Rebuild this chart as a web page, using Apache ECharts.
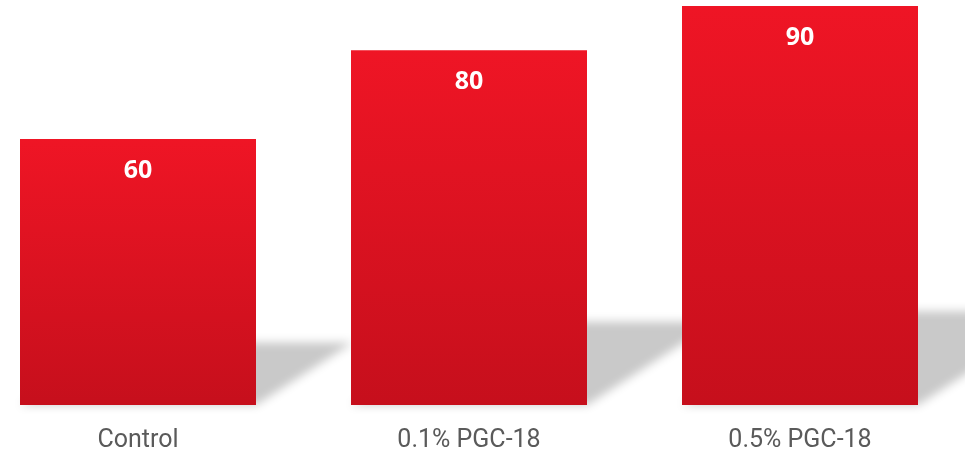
<!DOCTYPE html>
<html>
<head>
<meta charset="utf-8">
<script src="https://cdn.jsdelivr.net/npm/echarts@6/dist/echarts.min.js"></script>
<style>
html,body{margin:0;padding:0;background:#fff;}
#main{width:965px;height:453px;}
</style>
</head>
<body>
<div id="main"></div>
<script>
const categories = ['Control', '0.1% PGC-18', '0.5% PGC-18'];
const values = [60, 80, 90];

const chart = echarts.init(document.getElementById('main'));
const BAR_W = 236;

function renderShadow(params, api) {
  const i = api.value(0);
  const v = api.value(1);
  const base = api.coord([i, 0]);
  const top = api.coord([i, v]);
  const h = base[1] - top[1];
  const dy = h * 0.235;
  const dx = dy * 1.55;
  const L = base[0] - BAR_W / 2;
  const R = base[0] + BAR_W / 2;
  const off = 3000;
  return {
    type: 'polygon',
    shape: {
      points: [
        [L - off, base[1]], [R - off, base[1]],
        [R + dx - off, base[1] - dy], [L + dx - off, base[1] - dy]
      ]
    },
    style: {
      fill: '#c9c9c9',
      shadowColor: '#c9c9c9',
      shadowBlur: 10,
      shadowOffsetX: off,
      shadowOffsetY: 0
    },
    z2: 0
  };
}

chart.setOption({
  animation: false,
  grid: { left: 138, right: 165, top: 6, bottom: 47, containLabel: false },
  xAxis: {
    type: 'category',
    data: categories,
    boundaryGap: false,
    axisLine: { show: false },
    axisTick: { show: false },
    splitLine: { show: false },
    axisLabel: {
      color: '#5a5a5a',
      fontFamily: 'Roboto',
      fontSize: 25,
      margin: 23
    }
  },
  yAxis: {
    type: 'value',
    min: 0,
    max: 90,
    show: false
  },
  series: [
    {
      type: 'custom',
      renderItem: renderShadow,
      data: values.map((v, i) => [i, v]),
      z: 1,
      clip: false,
      silent: true
    },
    {
      type: 'bar',
      data: values,
      barWidth: BAR_W,
      clip: false,
      z: 2,
      itemStyle: {
        color: new echarts.graphic.LinearGradient(0, 0, 0, 1, [
          { offset: 0, color: '#ef1525' },
          { offset: 1, color: '#c60f1c' }
        ])
      },
      label: {
        show: true,
        position: 'insideTop',
        distance: 19,
        color: '#ffffff',
        fontFamily: 'Open Sans',
        fontWeight: 'bold',
        fontSize: 25
      }
    }
  ]
});
</script>
</body>
</html>
